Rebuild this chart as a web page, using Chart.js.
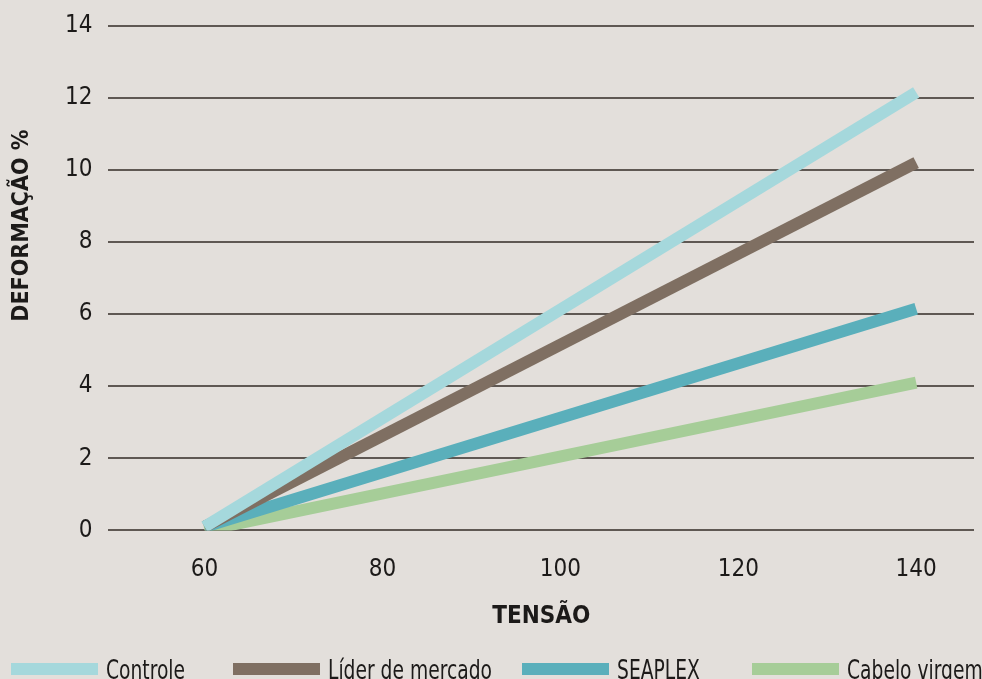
<!DOCTYPE html>
<html>
<head>
<meta charset="utf-8">
<script src="https://cdn.jsdelivr.net/npm/chart.js@4.4.0/dist/chart.umd.min.js"></script>
<style>
  html, body { margin: 0; padding: 0; background: #e3dfdb; overflow: hidden; }
  #wrap { width: 982px; height: 679px; position: relative; overflow: hidden; }
  #legend { position: absolute; left: 0; top: 655px; width: 982px; height: 24px;
            font-family: 'DejaVu Sans Condensed', sans-serif; font-size: 27px; line-height: 27px; color: #1c1a19; }
  #legend .item { position: absolute; top: 0; white-space: nowrap; }
  #legend .box { position: absolute; left: 0; top: 8px; width: 87px; height: 12px; }
  #legend .txt { position: absolute; left: 95px; top: 1px; transform: scaleX(0.77); transform-origin: left center; }
</style>
</head>
<body>
<div id="wrap"><canvas id="chart"></canvas><div id="legend"></div></div>
<script>
var tensao = [60, 140];
var controle = [0.1, 12.15];
var liderMercado = [0.1, 10.2];
var seaplex = [0.1, 6.15];
var cabeloVirgem = [0, 4.1];
var xTicks = [60, 80, 100, 120, 140];
var seriesNames = ['Controle', 'Líder de mercado', 'SEAPLEX', 'Cabelo virgem'];
var seriesColors = ['#a5d8dc', '#7f6f62', '#5aafbb', '#a6cd98'];
var legendLeft = [11, 233, 522, 752];

function pts(ys) {
    return tensao.map(function (x, i) { return { x: x, y: ys[i] }; });
}

var FONT = "'DejaVu Sans Condensed', sans-serif";
var INK = '#1c1a19';

var bg = {
    id: 'bg',
    beforeDraw: function (c) {
        var ctx = c.ctx;
        ctx.save();
        ctx.fillStyle = '#e3dfdb';
        ctx.fillRect(0, 0, c.width, c.height);
        ctx.restore();
    }
};

// y title sits above the middle of the axis in the original, so draw it by hand
var yTitle = {
    id: 'yTitle',
    afterDraw: function (c) {
        var ctx = c.ctx;
        ctx.save();
        ctx.translate(22, c.chartArea.top + 200);
        ctx.rotate(-Math.PI / 2);
        ctx.fillStyle = INK;
        ctx.font = 'bold 23px ' + FONT;
        ctx.textAlign = 'center';
        ctx.textBaseline = 'middle';
        ctx.fillText('DEFORMAÇÃO %', 0, 0);
        ctx.restore();
    }
};

var allSeries = [controle, liderMercado, seaplex, cabeloVirgem];
var datasets = allSeries.map(function (s, i) {
    return {
        label: seriesNames[i],
        data: pts(s),
        borderColor: seriesColors[i],
        backgroundColor: seriesColors[i],
        borderWidth: 12,
        pointRadius: 0,
        borderCapStyle: 'butt',
        tension: 0
    };
});

// html legend, the canvas one can't get this spacing
var legendEl = document.getElementById('legend');
seriesNames.forEach(function (name, i) {
    var it = document.createElement('div');
    it.className = 'item';
    it.style.left = legendLeft[i] + 'px';
    it.innerHTML = '<div class="box" style="background:' + seriesColors[i] + '"></div><div class="txt">' + name + '</div>';
    legendEl.appendChild(it);
});

new Chart(document.getElementById('chart'), {
    type: 'line',
    data: { datasets: datasets },
    plugins: [bg, yTitle],
    options: {
        responsive: true,
        maintainAspectRatio: false,
        animation: false,
        layout: { padding: { left: 49, right: 8, top: 0, bottom: 44 } },
        plugins: {
            tooltip: { enabled: false },
            legend: { display: false }
        },
        scales: {
            x: {
                type: 'linear',
                min: 49.2,
                max: 146.5,
                afterBuildTicks: function (axis) {
                    axis.ticks = xTicks.map(function (v) { return { value: v }; });
                },
                grid: { display: false },
                border: { display: false },
                ticks: { color: INK, font: { family: FONT, size: 24 }, padding: 17 },
                title: {
                    display: true,
                    text: 'TENSÃO',
                    color: INK,
                    font: { family: FONT, size: 24, weight: 'bold' },
                    padding: { top: 1, bottom: 4 }
                }
            },
            y: {
                min: 0,
                max: 14,
                ticks: { stepSize: 2, color: INK, font: { family: FONT, size: 24, lineHeight: 0.8 }, padding: 16 },
                grid: { color: '#5f5853', lineWidth: 2, drawTicks: false },
                border: { display: false }
            }
        }
    }
});
</script>
</body>
</html>
